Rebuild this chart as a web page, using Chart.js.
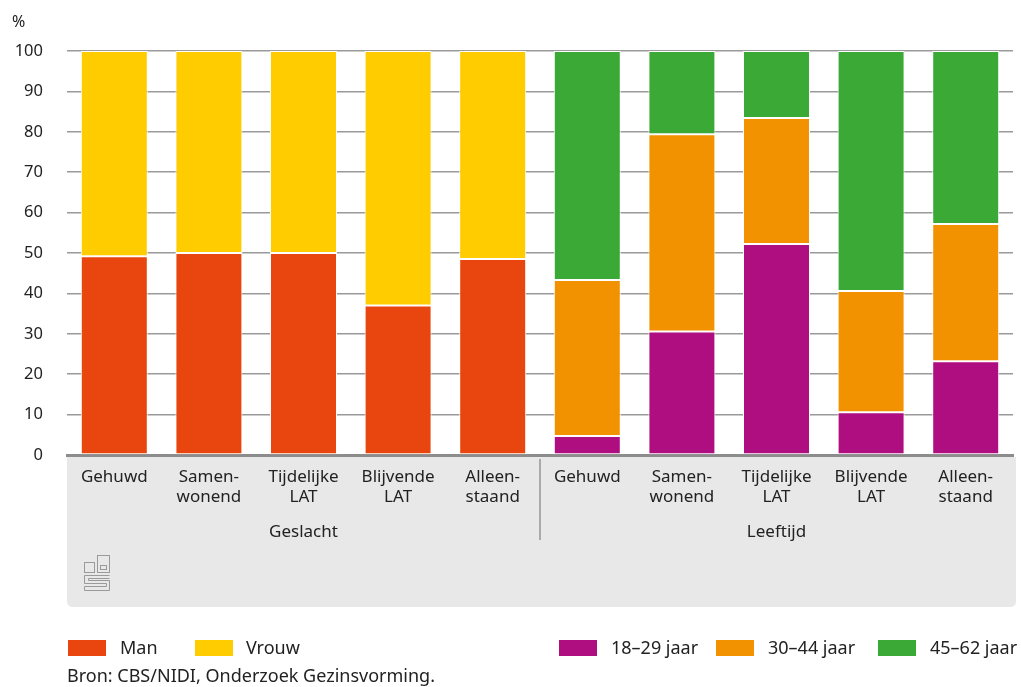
<!DOCTYPE html>
<html>
<head>
<meta charset="utf-8">
<script src="https://cdn.jsdelivr.net/npm/chart.js@4"></script>
<style>
  body { margin: 0; background: #fff; font-family: "Noto Sans", sans-serif; color: #222; }
  #wrap { position: relative; width: 1021px; height: 687px; }
  #unit { position: absolute; left: 12px; top: 10px; font-size: 16px; }
  .leg { position: absolute; top: 636px; font-size: 18px; line-height: 22px; }
  .sw { position: absolute; top: 640px; width: 38px; height: 16px; }
  #src { position: absolute; left: 67px; top: 664px; font-size: 18px; line-height: 22px; }
</style>
</head>
<body>
<div id="wrap">
  <canvas id="myChart" width="1021" height="687"></canvas>
  <div id="unit">%</div>
  <div class="sw" style="left:68px;background:#e8460e"></div><div class="leg" style="left:120px">Man</div>
  <div class="sw" style="left:195px;background:#ffcc00"></div><div class="leg" style="left:246px">Vrouw</div>
  <div class="sw" style="left:559px;background:#af0e80"></div><div class="leg" style="left:611px">18–29 jaar</div>
  <div class="sw" style="left:716px;background:#f39200"></div><div class="leg" style="left:768px">30–44 jaar</div>
  <div class="sw" style="left:878px;background:#3aa935"></div><div class="leg" style="left:930px">45–62 jaar</div>
  <div id="src">Bron: CBS/NIDI, Onderzoek Gezinsvorming.</div>
</div>
<script>
const categories = [
  ['Gehuwd'], ['Samen-', 'wonend'], ['Tijdelijke', 'LAT'], ['Blijvende', 'LAT'], ['Alleen-', 'staand'],
  ['Gehuwd'], ['Samen-', 'wonend'], ['Tijdelijke', 'LAT'], ['Blijvende', 'LAT'], ['Alleen-', 'staand']
];
const groups = ['Geslacht', 'Leeftijd'];
const man = [49.2, 50, 50, 37, 48.5, null, null, null, null, null];
const vrouw = [50.8, 50, 50, 63, 51.5, null, null, null, null, null];
const age18_29 = [null, null, null, null, null, 4.7, 30.6, 52.2, 10.6, 23.2];
const age30_44 = [null, null, null, null, null, 38.6, 48.8, 31.2, 30, 34];
const age45_62 = [null, null, null, null, null, 56.7, 20.6, 16.6, 59.4, 42.8];
const yTicks = [0, 10, 20, 30, 40, 50, 60, 70, 80, 90, 100];

const mkSet = (label, data, color) => ({
  label: label,
  data: data,
  backgroundColor: color,
  borderColor: '#fff',
  borderWidth: 1,
  borderSkipped: false,
  categoryPercentage: 1,
  barPercentage: 0.708
});

const bandPlugin = {
  id: 'band',
  beforeDraw(chart) {
    const ctx = chart.ctx;
    const a = chart.chartArea;
    const x = chart.scales.x;
    ctx.save();
    ctx.fillStyle = '#e8e8e8';
    const l = a.left, r = a.right + 3, t = a.bottom + 2, b = 607, rad = 6;
    ctx.beginPath();
    ctx.moveTo(l, t);
    ctx.lineTo(r, t);
    ctx.lineTo(r, b - rad);
    ctx.quadraticCurveTo(r, b, r - rad, b);
    ctx.lineTo(l + rad, b);
    ctx.quadraticCurveTo(l, b, l, b - rad);
    ctx.closePath();
    ctx.fill();
    // separator between groups
    const sep = (x.getPixelForValue(4) + x.getPixelForValue(5)) / 2;
    ctx.strokeStyle = '#aaaaaa';
    ctx.lineWidth = 2;
    ctx.beginPath();
    ctx.moveTo(sep, a.bottom + 4);
    ctx.lineTo(sep, 540);
    ctx.stroke();
    // group labels
    ctx.fillStyle = '#222';
    ctx.font = '17px "Noto Sans"';
    ctx.textAlign = 'center';
    ctx.textBaseline = 'middle';
    ctx.fillText(groups[0], x.getPixelForValue(2), 532);
    ctx.fillText(groups[1], x.getPixelForValue(7), 532);
    // small cbs logo
    ctx.strokeStyle = '#9a9a9a';
    ctx.lineWidth = 1;
    const ox = 84.5, oy = 555.5;
    ctx.strokeRect(ox, oy + 7, 10, 10);
    ctx.strokeRect(ox + 13, oy, 12, 17);
    ctx.strokeRect(ox + 16, oy + 10, 6, 4);
    ctx.beginPath();
    ctx.moveTo(ox + 25, oy + 20); ctx.lineTo(ox, oy + 20); ctx.lineTo(ox, oy + 28);
    ctx.lineTo(ox + 22, oy + 28); ctx.lineTo(ox + 22, oy + 31); ctx.lineTo(ox, oy + 31);
    ctx.lineTo(ox, oy + 35); ctx.lineTo(ox + 25, oy + 35); ctx.lineTo(ox + 25, oy + 25);
    ctx.lineTo(ox + 4, oy + 25); ctx.lineTo(ox + 4, oy + 23); ctx.lineTo(ox + 25, oy + 23);
    ctx.stroke();
    ctx.restore();
  }
};

new Chart(document.getElementById('myChart'), {
  type: 'bar',
  data: {
    labels: categories,
    datasets: [
      mkSet('Man', man, '#e8460e'),
      mkSet('Vrouw', vrouw, '#ffcc00'),
      mkSet('18–29 jaar', age18_29, '#af0e80'),
      mkSet('30–44 jaar', age30_44, '#f39200'),
      mkSet('45–62 jaar', age45_62, '#3aa935')
    ]
  },
  options: {
    responsive: false,
    animation: false,
    layout: { padding: { top: 51, right: 8, left: 0, bottom: 0 } },
    plugins: { legend: { display: false }, tooltip: { enabled: false } },
    scales: {
      x: {
        stacked: true,
        grid: { display: false, drawTicks: false },
        border: { display: true, color: '#8c8c8c', width: 3 },
        ticks: { color: '#222', font: { family: 'Noto Sans', size: 17, lineHeight: 1.2 }, padding: 12, maxRotation: 0, autoSkip: false },
        afterFit(scale) { scale.height = 232; }
      },
      y: {
        stacked: true,
        min: 0,
        max: 100,
        afterBuildTicks(scale) { scale.ticks = yTicks.map(v => ({ value: v })); },
        grid: { color: '#9a9a9a', lineWidth: 1.5, drawTicks: false },
        border: { display: false },
        ticks: { color: '#222', font: { family: 'Noto Sans', size: 16.5 }, padding: 24 },
        afterFit(scale) { scale.width = 67; }
      }
    }
  },
  plugins: [bandPlugin]
});
</script>
</body>
</html>
